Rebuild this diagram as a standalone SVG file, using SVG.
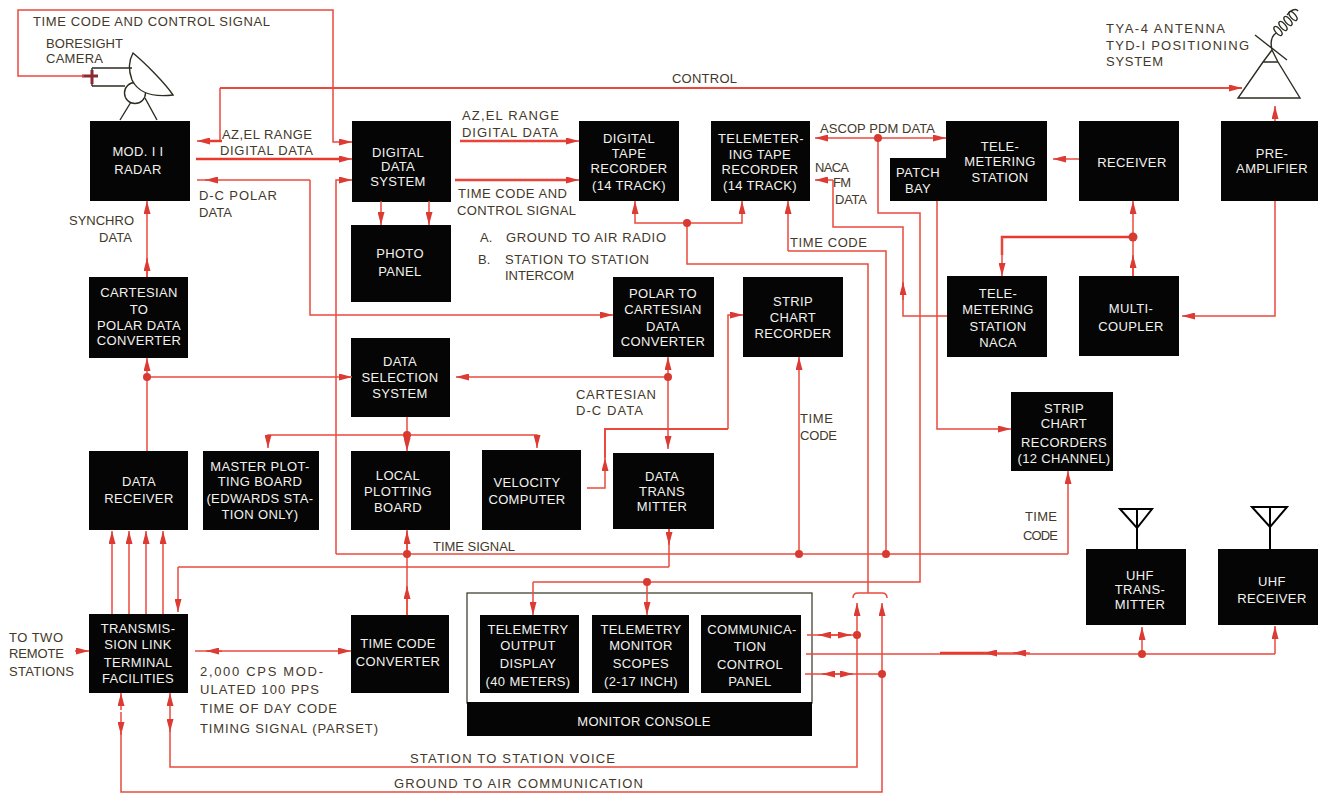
<svg xmlns="http://www.w3.org/2000/svg" width="1327" height="794" viewBox="0 0 1327 794">
<style>
text{font-family:"Liberation Sans",Arial,sans-serif;font-size:13px}
.b{fill:#f2f2ee;text-anchor:middle;letter-spacing:.35px}
.t{fill:#43382a}
.k{fill:#050505}
.l{fill:none;stroke:#ea4a3c;stroke-width:1.5;marker-end:url(#ar)}
.n{fill:none;stroke:#ea4a3c;stroke-width:1.5}
.h{fill:none;stroke:#e8392c;stroke-width:2.5}
.d{fill:#d63a30}
.s{fill:none;stroke:#2c2c22;stroke-width:1.4}
.u{fill:none;stroke:#000;stroke-width:2}
</style>
<defs>
<marker id="ar" viewBox="0 0 13 7" refX="13" refY="3.5" markerWidth="13" markerHeight="7" markerUnits="userSpaceOnUse" orient="auto-start-reverse"><path d="M0 0L13 3.5L0 7Z" fill="#dc3a32"/></marker>
</defs>
<g id="radar-dish">
<circle class="s" cx="135" cy="93" r="10.5"/>
<path class="s" d="M132 80C137 90 147 98 173 95C165 83 145 63 133 53C128 62 129 72 132 80Z" style="fill:#fff"/>
<path class="s" d="M120 120L131 102M157 120L145 98M92 68H132M92 86H125M92 68V86"/>
<path d="M82 76H98M92 70V84" fill="none" stroke="#8a2a30" stroke-width="3"/>
</g>
<g id="antenna">
<path class="s" d="M1238 98H1300L1278 62L1272 50L1263 62ZM1263 62H1278M1255 35L1287 60M1272 50C1270 42 1272 36 1276 33"/>
<g class="s"><ellipse cx="1278" cy="31" rx="5.5" ry="2.5" transform="rotate(50 1278 31)"/><ellipse cx="1283" cy="26" rx="5.5" ry="2.5" transform="rotate(50 1283 26)"/><ellipse cx="1288" cy="21" rx="5.5" ry="2.5" transform="rotate(50 1288 21)"/><ellipse cx="1293" cy="16" rx="5.5" ry="2.5" transform="rotate(50 1293 16)"/></g>
<path class="s" d="M1287 15C1290 10 1296 8 1298 11"/>
</g>
<g id="n-radar"><rect class="k" x="90" y="121" width="100" height="80"/><text class="b"><tspan x="138" y="156">MOD. I I</tspan><tspan x="138" y="174">RADAR</tspan></text></g>
<g id="n-digital-data"><rect class="k" x="352" y="121" width="99" height="81"/><text class="b"><tspan x="398" y="157">DIGITAL</tspan><tspan x="398" y="171">DATA</tspan><tspan x="398" y="186">SYSTEM</tspan></text></g>
<g id="n-photo"><rect class="k" x="351" y="225" width="100" height="77"/><text class="b"><tspan x="400" y="258">PHOTO</tspan><tspan x="400" y="276">PANEL</tspan></text></g>
<g id="n-digital-tape"><rect class="k" x="579" y="121" width="100" height="80"/><text class="b"><tspan x="629" y="143">DIGITAL</tspan><tspan x="629" y="158">TAPE</tspan><tspan x="629" y="173">RECORDER</tspan><tspan x="629" y="190">(14 TRACK)</tspan></text></g>
<g id="n-telem-tape"><rect class="k" x="711" y="121" width="99" height="80"/><text class="b"><tspan x="761" y="143">TELEMETER-</tspan><tspan x="760" y="159">ING TAPE</tspan><tspan x="760" y="174">RECORDER</tspan><tspan x="760" y="190">(14 TRACK)</tspan></text></g>
<g id="n-tele-station"><rect class="k" x="946" y="121" width="101" height="80"/><text class="b"><tspan x="1000" y="151">TELE-</tspan><tspan x="1000" y="166">METERING</tspan><tspan x="1000" y="182">STATION</tspan></text></g>
<g id="n-patch"><rect class="k" x="890" y="158" width="56" height="43"/><text class="b"><tspan x="918" y="177">PATCH</tspan><tspan x="918" y="193">BAY</tspan></text></g>
<g id="n-receiver"><rect class="k" x="1079" y="121" width="100" height="80"/><text class="b"><tspan x="1132" y="167">RECEIVER</tspan></text></g>
<g id="n-preamp"><rect class="k" x="1221" y="121" width="97" height="80"/><text class="b"><tspan x="1272" y="158">PRE-</tspan><tspan x="1272" y="173">AMPLIFIER</tspan></text></g>
<g id="n-cartesian"><rect class="k" x="89" y="277" width="99" height="81"/><text class="b"><tspan x="139" y="297">CARTESIAN</tspan><tspan x="139" y="314">TO</tspan><tspan x="139" y="330">POLAR DATA</tspan><tspan x="139" y="345">CONVERTER</tspan></text></g>
<g id="n-polar"><rect class="k" x="613" y="277" width="101" height="80"/><text class="b"><tspan x="663" y="298">POLAR TO</tspan><tspan x="663" y="314">CARTESIAN</tspan><tspan x="663" y="331">DATA</tspan><tspan x="663" y="346">CONVERTER</tspan></text></g>
<g id="n-strip"><rect class="k" x="743" y="277" width="100" height="80"/><text class="b"><tspan x="793" y="306">STRIP</tspan><tspan x="793" y="322">CHART</tspan><tspan x="793" y="338">RECORDER</tspan></text></g>
<g id="n-naca"><rect class="k" x="947" y="276" width="100" height="81"/><text class="b"><tspan x="998" y="298">TELE-</tspan><tspan x="998" y="314">METERING</tspan><tspan x="998" y="331">STATION</tspan><tspan x="998" y="347">NACA</tspan></text></g>
<g id="n-multi"><rect class="k" x="1079" y="276" width="100" height="80"/><text class="b"><tspan x="1131" y="313">MULTI-</tspan><tspan x="1131" y="331">COUPLER</tspan></text></g>
<g id="n-selection"><rect class="k" x="351" y="338" width="99" height="79"/><text class="b"><tspan x="400" y="366">DATA</tspan><tspan x="400" y="382">SELECTION</tspan><tspan x="400" y="398">SYSTEM</tspan></text></g>
<g id="n-strip12"><rect class="k" x="1011" y="392" width="102" height="79"/><text class="b"><tspan x="1064" y="413">STRIP</tspan><tspan x="1064" y="428">CHART</tspan><tspan x="1064" y="447">RECORDERS</tspan><tspan x="1064" y="463">(12 CHANNEL)</tspan></text></g>
<g id="n-data-receiver"><rect class="k" x="89" y="451" width="99" height="79"/><text class="b"><tspan x="139" y="486">DATA</tspan><tspan x="139" y="503">RECEIVER</tspan></text></g>
<g id="n-master"><rect class="k" x="203" y="451" width="116" height="79"/><text class="b"><tspan x="260" y="471">MASTER PLOT-</tspan><tspan x="260" y="486">TING BOARD</tspan><tspan x="260" y="503">(EDWARDS STA-</tspan><tspan x="260" y="519">TION ONLY)</tspan></text></g>
<g id="n-local"><rect class="k" x="351" y="451" width="99" height="79"/><text class="b"><tspan x="398" y="480">LOCAL</tspan><tspan x="398" y="496">PLOTTING</tspan><tspan x="398" y="512">BOARD</tspan></text></g>
<g id="n-velocity"><rect class="k" x="482" y="450" width="99" height="80"/><text class="b"><tspan x="527" y="487">VELOCITY</tspan><tspan x="527" y="504">COMPUTER</tspan></text></g>
<g id="n-data-trans"><rect class="k" x="613" y="453" width="101" height="76"/><text class="b"><tspan x="662" y="481">DATA</tspan><tspan x="662" y="496">TRANS</tspan><tspan x="662" y="511">MITTER</tspan></text></g>
<g id="n-transmission"><rect class="k" x="89" y="614" width="99" height="79"/><text class="b"><tspan x="138" y="633">TRANSMIS-</tspan><tspan x="138" y="649">SION LINK</tspan><tspan x="138" y="667">TERMINAL</tspan><tspan x="138" y="683">FACILITIES</tspan></text></g>
<g id="n-timecode"><rect class="k" x="351" y="615" width="98" height="78"/><text class="b"><tspan x="398" y="648">TIME CODE</tspan><tspan x="398" y="666">CONVERTER</tspan></text></g>
<g id="n-console"><rect x="467" y="593" width="345" height="110" fill="#fff" stroke="#332" stroke-width="1.2"/><rect class="k" x="467" y="702" width="345" height="34"/><text class="b" x="644" y="726" letter-spacing="1">MONITOR CONSOLE</text></g>
<g id="n-output"><rect class="k" x="480" y="615" width="99" height="78"/><text class="b"><tspan x="528" y="634">TELEMETRY</tspan><tspan x="528" y="650">OUTPUT</tspan><tspan x="528" y="668">DISPLAY</tspan><tspan x="528" y="686">(40 METERS)</tspan></text></g>
<g id="n-scopes"><rect class="k" x="592" y="615" width="97" height="78"/><text class="b"><tspan x="641" y="634">TELEMETRY</tspan><tspan x="641" y="650">MONITOR</tspan><tspan x="641" y="668">SCOPES</tspan><tspan x="641" y="686">(2-17 INCH)</tspan></text></g>
<g id="n-comm"><rect class="k" x="701" y="615" width="100" height="78"/><text class="b"><tspan x="752" y="634">COMMUNICA-</tspan><tspan x="750" y="651">TION</tspan><tspan x="750" y="669">CONTROL</tspan><tspan x="750" y="686">PANEL</tspan></text></g>
<g id="n-uhf-t"><rect class="k" x="1086" y="549" width="100" height="76"/><text class="b"><tspan x="1140" y="580">UHF</tspan><tspan x="1140" y="594">TRANS-</tspan><tspan x="1140" y="609">MITTER</tspan></text><path class="u" d="M1137 549V509M1120 509H1152L1137 528Z"/></g>
<g id="n-uhf-r"><rect class="k" x="1218" y="549" width="100" height="76"/><text class="b"><tspan x="1272" y="586">UHF</tspan><tspan x="1272" y="603">RECEIVER</tspan></text><path class="u" d="M1270 549V507M1252 507H1287L1270 527Z"/></g>
<g id="connectors">
<path class="l" d="M84 76H18V10H333V142H352"/>
<path class="l" d="M220 88H1242" style="stroke-width:2"/>
<path class="l" d="M220 88V141H197"/>
<path class="h" d="M205 141H222"/>
<path class="l" d="M196 159H352"/>
<path class="h" d="M196 159H340"/>
<path class="l" d="M310 180H205"/>
<path class="n" d="M197 180H210"/>
<path class="l" d="M310 180V315H613"/>
<path class="l" d="M336 554V180H352"/>
<path class="n" d="M336 554H1068"/>
<path class="l" d="M1068 554V471"/>
<path class="l" d="M799 554V357"/>
<path class="n" d="M886 554V251H788"/>
<path class="l" d="M788 251V201"/>
<path class="l" d="M381 201V225"/>
<path class="l" d="M429 201V225"/>
<path class="h" d="M460 141H570"/>
<path class="l" d="M460 141H579"/>
<path class="h" d="M455 180H570"/>
<path class="l" d="M455 180H579"/>
<path class="l" d="M687 223H635V201"/>
<path class="l" d="M687 223H742V201"/>
<path class="n" d="M687 223V264H868V593"/>
<path class="n" d="M853 598Q853 593 858 593H882Q887 593 887 598"/>
<path class="l" d="M878 138H815"/>
<path class="l" d="M878 138H946"/>
<path class="n" d="M878 138V213H920V582H533"/>
<path class="l" d="M533 582V615"/>
<path class="l" d="M647 582V615"/>
<path class="l" d="M833 180H815"/>
<path class="n" d="M833 180V227H903V316H947"/>
<path class="l" d="M903 300V282"/>
<path class="l" d="M1079 159H1053"/>
<path class="l" d="M1133 276V201"/>
<path class="l" d="M1133 276V255"/>
<path class="h" d="M1133 237H1002V255"/>
<path class="l" d="M1002 237V276"/>
<path class="l" d="M1275 121V106"/>
<path class="l" d="M1275 201V316H1182"/>
<path class="l" d="M937 201V429H1011"/>
<path class="l" d="M147 277V201"/>
<path class="l" d="M147 277V258"/>
<path class="l" d="M147 451V358"/>
<path class="l" d="M147 377H352"/>
<path class="l" d="M668 377H456"/>
<path class="l" d="M668 377V357"/>
<path class="l" d="M668 377V449"/>
<path class="l" d="M407 417V451"/>
<path class="l" d="M407 435H268V448"/>
<path class="l" d="M407 435H537V448"/>
<path class="l" d="M587 488H605V458"/>
<path class="n" d="M605 458V429H728" style="stroke-width:2"/>
<path class="l" d="M728 429V315H743"/>
<path class="n" d="M407 530V615"/>
<path class="l" d="M407 554V531"/>
<path class="l" d="M407 615V586"/>
<path class="n" d="M669 567H178"/>
<path class="l" d="M178 567V612"/>
<path class="n" d="M669 567V529"/>
<path class="l" d="M669 529V545"/>
<path class="l" d="M112 614V531"/>
<path class="l" d="M129 614V531"/>
<path class="l" d="M146 614V531"/>
<path class="l" d="M163 614V531"/>
<path class="l" d="M75 651H89"/>
<path class="n" d="M195 651H222"/>
<path class="l" d="M222 651H206"/>
<path class="l" d="M222 651H351"/>
<path class="l" d="M121 710V693"/>
<path class="l" d="M121 712V735"/>
<path class="n" d="M121 730V792H882V674"/>
<path class="l" d="M882 674V603"/>
<path class="l" d="M170 712V693"/>
<path class="l" d="M170 712V732"/>
<path class="n" d="M170 730V767H857V635"/>
<path class="l" d="M857 635V603"/>
<path class="n" d="M807 635H857M805 674H882M806 654H1275"/>
<path class="l" d="M835 635H818"/>
<path class="l" d="M835 635H851"/>
<path class="l" d="M835 674H822"/>
<path class="l" d="M835 674H853"/>
<path class="h" d="M940 653H990"/>
<path class="l" d="M1020 653H984"/>
<path class="l" d="M1030 653H1013"/>
<path class="l" d="M1142 654V627"/>
<path class="l" d="M1275 654V626"/>
<g class="d">
<circle cx="878" cy="138" r="4"/><circle cx="687" cy="223" r="4"/><circle cx="1133" cy="237" r="4.5"/>
<circle cx="147" cy="377" r="4"/><circle cx="668" cy="377" r="4"/><circle cx="407" cy="435" r="4"/>
<circle cx="407" cy="554" r="4"/><circle cx="799" cy="554" r="4"/><circle cx="886" cy="554" r="4"/>
<circle cx="647" cy="582" r="4"/><circle cx="857" cy="635" r="4"/><circle cx="882" cy="674" r="4"/>
<circle cx="1142" cy="654" r="4"/>
</g>
</g>
<g id="labels">
<text class="t" x="33" y="26" textLength="237">TIME CODE AND CONTROL SIGNAL</text>
<text class="t" x="46" y="48" textLength="77">BORESIGHT</text><text class="t" x="46" y="63" textLength="57">CAMERA</text>
<text class="t" x="672" y="83" textLength="65">CONTROL</text>
<text class="t" x="222" y="139" textLength="90">AZ,EL RANGE</text><text class="t" x="220" y="155" textLength="93">DIGITAL DATA</text>
<text class="t" x="199" y="200" textLength="78">D-C POLAR</text><text class="t" x="199" y="217" textLength="33">DATA</text>
<text class="t" x="69" y="225" textLength="65">SYNCHRO</text><text class="t" x="99" y="242" textLength="33">DATA</text>
<text class="t" x="462" y="120" textLength="97">AZ,EL RANGE</text><text class="t" x="462" y="137" textLength="96">DIGITAL DATA</text>
<text class="t" x="458" y="198" textLength="109">TIME CODE AND</text><text class="t" x="457" y="215" textLength="119">CONTROL SIGNAL</text>
<text class="t" x="480" y="242">A.</text><text class="t" x="506" y="242" textLength="160">GROUND TO AIR RADIO</text>
<text class="t" x="478" y="264">B.</text><text class="t" x="505" y="264" textLength="144">STATION TO STATION</text><text class="t" x="505" y="280" textLength="69">INTERCOM</text>
<text class="t" x="820" y="133" textLength="115">ASCOP PDM DATA</text>
<text class="t" x="815" y="172" textLength="34">NACA</text><text class="t" x="833" y="187" textLength="18">FM</text><text class="t" x="835" y="204" textLength="32">DATA</text>
<text class="t" x="790" y="247" textLength="77">TIME CODE</text>
<text class="t" x="576" y="399" textLength="80">CARTESIAN</text><text class="t" x="576" y="415" textLength="67">D-C DATA</text>
<text class="t" x="800" y="423" textLength="33">TIME</text><text class="t" x="800" y="440" textLength="37">CODE</text>
<text class="t" x="433" y="551" textLength="82">TIME SIGNAL</text>
<text class="t" x="1025" y="521" textLength="32">TIME</text><text class="t" x="1023" y="540" textLength="35">CODE</text>
<text class="t" x="9" y="642" textLength="54">TO TWO</text><text class="t" x="9" y="658" textLength="55">REMOTE</text><text class="t" x="9" y="676" textLength="65">STATIONS</text>
<text class="t" x="200" y="676" textLength="123">2,000 CPS MOD-</text><text class="t" x="200" y="694" textLength="119">ULATED 100 PPS</text><text class="t" x="200" y="713" textLength="137">TIME OF DAY CODE</text><text class="t" x="200" y="733" textLength="178">TIMING SIGNAL (PARSET)</text>
<text class="t" x="410" y="763" textLength="205">STATION TO STATION VOICE</text>
<text class="t" x="394" y="788" textLength="249">GROUND TO AIR COMMUNICATION</text>
<text class="t" x="1106" y="33" textLength="119">TYA-4 ANTENNA</text><text class="t" x="1106" y="50" textLength="143">TYD-I POSITIONING</text><text class="t" x="1106" y="66" textLength="57">SYSTEM</text>
</g>
</svg>
